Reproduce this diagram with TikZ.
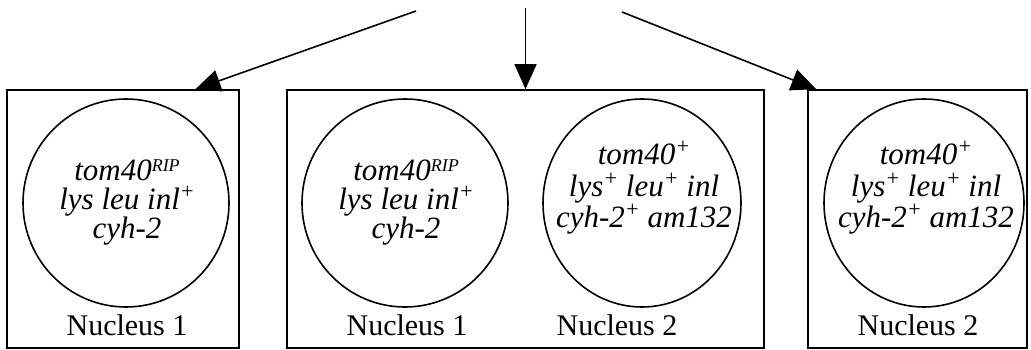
\documentclass[tikz,border=0pt]{standalone}
\usepackage{fontspec}
\setmainfont{Liberation Serif}
\usetikzlibrary{arrows.meta,calc,shapes.geometric}
% raised allele marks
\newcommand\gsup[1]{\raisebox{11pt}{\fontsize{22}{22}\selectfont #1}}
\newcommand\riptag{\raisebox{9pt}{\fontsize{18}{18}\selectfont RIP}}

\begin{document}
\begin{tikzpicture}[x=1pt,y=-1pt,
  cellbox/.style={draw, line width=1.6pt, inner sep=0pt},
  nucleus/.style={ellipse, draw, line width=1.6pt, inner sep=0pt},
  genes/.style={align=center, font=\fontsize{31}{29}\selectfont\itshape, inner sep=0pt},
  nuclabel/.style={anchor=base, inner sep=0pt, font=\fontsize{30}{30}\selectfont},
  flow/.style={-{Triangle[length=25pt,width=22pt]}, line width=1.6pt}
]
\useasboundingbox (0,0) rectangle (1031,350);

% cells
\node[cellbox, minimum width=232, minimum height=258] (b1) at (123,219) {};
\node[cellbox, minimum width=477, minimum height=258] (b2) at (525.5,219) {};
\node[cellbox, minimum width=219, minimum height=258] (b3) at (917.5,219) {};

% nuclei
\node[nucleus, minimum width=206, minimum height=208] (n1) at (126,203) {};
\node[nucleus, minimum width=206, minimum height=208] (n2) at (405,203) {};
\node[nucleus, minimum width=198, minimum height=208] (n3) at (642,203) {};
\node[nucleus, minimum width=200, minimum height=208] (n4) at (924,203) {};

% genotypes
\node[genes] (g1) at (127,202) {tom40\riptag\\ lys leu inl\gsup{+}\\ cyh-2};
\node[genes] (g2) at (406,202) {tom40\riptag\\ lys leu inl\gsup{+}\\ cyh-2};
\node[genes] (g3) at (644,188) {tom40\gsup{+}\\[3pt] lys\gsup{+} leu\gsup{+} inl\\ cyh-2\gsup{+} am132};
\node[genes] (g4) at (926,188) {tom40\gsup{+}\\[3pt] lys\gsup{+} leu\gsup{+} inl\\ cyh-2\gsup{+} am132};

% labels
\node[nuclabel] (l1) at (127,335) {Nucleus 1};
\node[nuclabel] (l2) at (407,335) {Nucleus 1};
\node[nuclabel] (l3) at (617,335) {Nucleus 2};
\node[nuclabel] (l4) at (918,335) {Nucleus 2};

% arrows
\coordinate (s1) at (416,11);
\coordinate (s2) at (525.5,8);
\coordinate (s3) at (622,12);
\draw[flow] (s1) -- ($(b1.north west)!0.81!(b1.north east)$);
\draw[flow] (s2) -- (b2.north);
\draw[flow] (s3) -- ($(b3.north west)!0.041!(b3.north east)$);
\end{tikzpicture}
\end{document}
